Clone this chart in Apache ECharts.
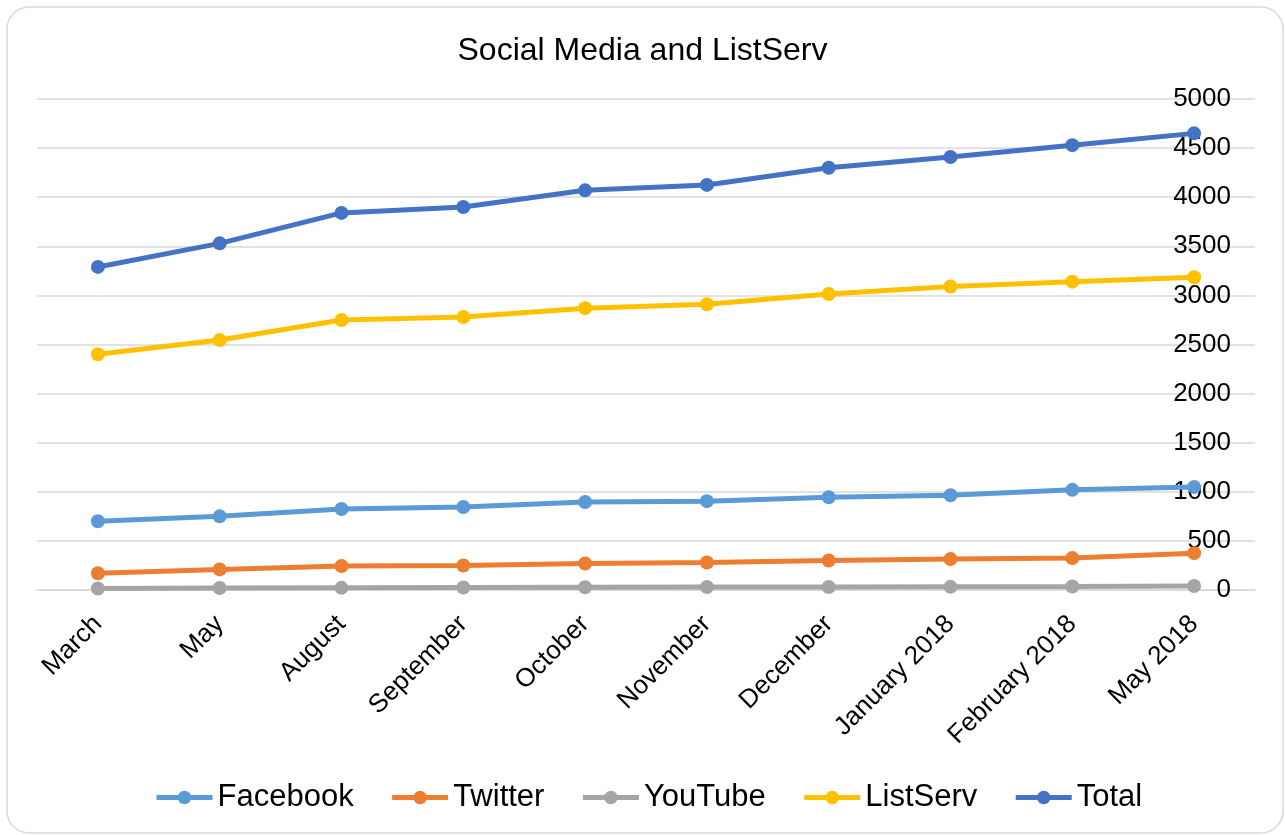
<!DOCTYPE html>
<html>
<head>
<meta charset="utf-8">
<script src="https://cdn.jsdelivr.net/npm/echarts@6/dist/echarts.min.js"></script>
<style>
html,body{margin:0;padding:0;background:#fff;}
#chart{width:1285px;height:835px;}
</style>
</head>
<body>
<div id="chart"></div>
<script>
const categories = ['March','May','August','September','October','November','December','January 2018','February 2018','May 2018'];
const facebook = [700, 750, 825, 845, 895, 905, 945, 965, 1020, 1050];
const twitter  = [170, 210, 245, 250, 270, 280, 300, 315, 325, 375];
const youtube  = [15, 20, 22, 25, 28, 30, 30, 32, 35, 40];
const listserv = [2400, 2545, 2750, 2780, 2870, 2910, 3015, 3090, 3140, 3185];
const total    = [3290, 3530, 3840, 3900, 4070, 4125, 4300, 4410, 4530, 4650];
const seriesNames = ['Facebook','Twitter','YouTube','ListServ','Total'];
const seriesColors = ['#5B9BD5','#ED7D31','#A5A5A5','#FFC000','#4472C4'];
const seriesData = [facebook, twitter, youtube, listserv, total];

const font = 'Liberation Sans, Arial, sans-serif';
const chart = echarts.init(document.getElementById('chart'));
chart.setOption({
  animation: false,
  textStyle: {fontFamily: font},
  graphic: [{
    type: 'rect',
    shape: {x: 7, y: 7, width: 1276, height: 826, r: 22},
    style: {fill: 'none', stroke: '#d9d9d9', lineWidth: 1.5},
    silent: true
  }],
  title: {
    text: 'Social Media and ListServ',
    left: 'center',
    top: 30,
    textStyle: {fontFamily: font, fontSize: 32, fontWeight: 'normal', color: '#000'}
  },
  legend: {
    data: seriesNames,
    left: 149,
    top: 777,
    itemWidth: 56,
    itemHeight: 17,
    itemGap: 36,
    lineStyle: {width: 5},
    textStyle: {fontFamily: font, fontSize: 31, color: '#000'}
  },
  grid: {left: 37, right: 30, top: 99, bottom: 245, containLabel: false},
  xAxis: {
    type: 'category',
    data: categories,
    boundaryGap: true,
    axisLine: {show: true, lineStyle: {color: '#d9d9d9', width: 1.5}},
    axisTick: {show: false},
    axisLabel: {rotate: 45, fontSize: 26, color: '#000', fontFamily: font, margin: 30, interval: 0}
  },
  yAxis: {
    type: 'value',
    position: 'right',
    min: 0, max: 5000, interval: 500,
    axisLine: {show: false},
    axisTick: {show: false},
    axisLabel: {inside: true, margin: 24, fontSize: 26, color: '#000', fontFamily: font,
      padding: [4, 0, 0, 0],
      formatter: v => String(v)},
    splitLine: {show: true, lineStyle: {color: '#d9d9d9', width: 1.5}}
  },
  series: seriesNames.map((n, i) => ({
    name: n,
    type: 'line',
    data: seriesData[i],
    symbol: 'circle',
    symbolSize: 14,
    color: seriesColors[i],
    lineStyle: {width: 5, color: seriesColors[i]},
    itemStyle: {color: seriesColors[i]}
  }))
});
</script>
</body>
</html>
